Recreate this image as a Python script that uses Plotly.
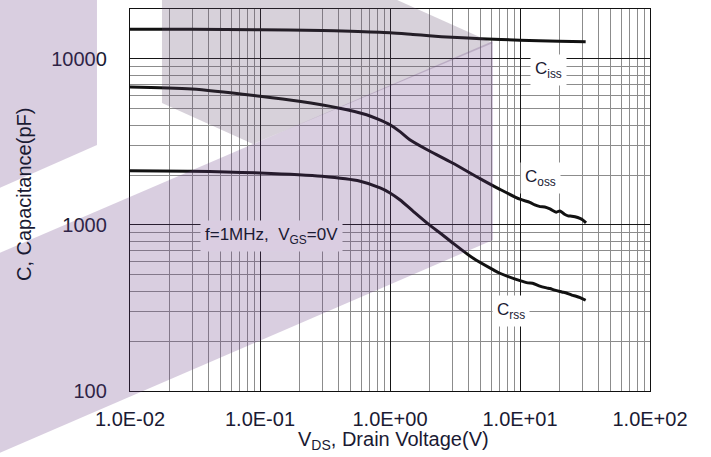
import plotly.graph_objects as go
import math

# ---------------- data ----------------
vds_ciss = [0.01, 0.03, 0.1, 0.3, 0.5, 1.0, 1.5, 2.0, 3.0, 5.0, 10.0, 20.0, 32.0]
ciss = [15100, 15100, 15000, 14850, 14700, 14400, 14050, 13800, 13500, 13250, 12980, 12800, 12700]

vds_coss = [0.01, 0.03, 0.1, 0.2, 0.4, 0.66, 0.8, 1.0, 1.2, 1.42, 2.0, 3.0, 5.0, 7.0, 10.0,
            11.9, 13.0, 14.3, 15.5, 17.0, 19.0, 20.3, 22.0, 23.4, 25.0, 26.5, 28.9, 30.5, 32.2]
coss = [6770, 6590, 5960, 5560, 5070, 4615, 4360, 4020, 3640, 3265, 2800, 2370, 1890, 1640, 1430,
        1370, 1320, 1290, 1285, 1250, 1195, 1215, 1160, 1135, 1130, 1120, 1095, 1070, 1030]

vds_crss = [0.01, 0.03, 0.1, 0.3, 0.59, 0.84, 1.0, 1.19, 1.51, 2.0, 2.5, 3.0, 4.37, 6.2, 7.0, 10.0,
            11.5, 12.5, 14.0, 16.0, 17.0, 18.5, 21.0, 23.0, 25.0, 27.0, 29.0, 32.0]
crss = [2124, 2110, 2056, 1963, 1833, 1672, 1560, 1419, 1208, 1004, 880, 785, 630, 538, 512, 462,
        448, 446, 430, 418, 414, 405, 395, 388, 378, 372, 365, 352]

x_tickvals = [0.01, 0.1, 1, 10, 100]
x_ticktext = ["1.0E-02", "1.0E-01", "1.0E+00", "1.0E+01", "1.0E+02"]
y_tickvals = [100, 1000, 10000]
y_ticktext = ["100", "1000", "10000"]

# ---------------- layout constants ----------------
W, H = 711, 457
L, R, T, B = 130, 61, 9, 66
PW, PH = W - L - R, H - T - B
TXT = "#1a1a33"
FONT = "Liberation Sans, Arial, sans-serif"

fig = go.Figure()
for xs, ys in [(vds_ciss, ciss), (vds_coss, coss), (vds_crss, crss)]:
    fig.add_trace(go.Scatter(x=xs, y=ys, mode="lines",
                             line=dict(color="#111111", width=3, shape="spline", smoothing=0.8),
                             showlegend=False, hoverinfo="skip"))

x_minor = [m * d for d in [0.01, 0.1, 1, 10] for m in range(2, 10)]
y_minor = [m * d for d in [100, 1000] for m in range(2, 10)]

fig.update_xaxes(type="log", range=[-2, 2], tickvals=x_tickvals, ticktext=x_ticktext,
                 ticks="", ticklabelstandoff=10,
                 tickfont=dict(family=FONT, size=20, color=TXT),
                 showgrid=True, gridcolor="#151515", gridwidth=1,
                 minor=dict(tickvals=x_minor, showgrid=True, gridcolor="#8c8c8c", gridwidth=1, ticks=""),
                 showline=True, mirror=True, linecolor="#111111", linewidth=1.3, zeroline=False)
fig.update_yaxes(type="log", range=[2, math.log10(20000)], tickvals=y_tickvals, ticktext=y_ticktext,
                 ticks="", ticklabelstandoff=18,
                 tickfont=dict(family=FONT, size=20, color=TXT),
                 showgrid=True, gridcolor="#151515", gridwidth=1,
                 minor=dict(tickvals=y_minor, showgrid=True, gridcolor="#8c8c8c", gridwidth=1, ticks=""),
                 showline=True, mirror=True, linecolor="#111111", linewidth=1.3, zeroline=False)


def px2paper(pts):
    return [((x - L) / PW, (H - B - y) / PH) for x, y in pts]


def path(pts):
    p = px2paper(pts)
    return "M " + " L ".join(f"{x:.4f},{y:.4f}" for x, y in p) + " Z"


# watermark polygons (pixel coordinates of decoration)
purple_bar = [(-5, -5), (97, -5), (97, 145), (-5, 190)]
gray_face = [(162, -5), (386, -5), (493, 43), (253, 144), (162, 103)]
purple_band = [(-5, 255), (493, 41), (493, 240), (-5, 455)]
shapes = []
for poly, col in [(purple_bar, "rgb(103,59,131)"), (purple_band, "rgb(103,59,131)"),
                  (gray_face, "rgb(95,71,107)")]:
    shapes.append(dict(type="path", xref="paper", yref="paper", path=path(poly),
                       fillcolor=col, opacity=0.25, line=dict(width=0), layer="above"))

annotations = []


def ann_px(x, y, text, size=17, bg=None, angle=0):
    px, py = px2paper([(x, y)])[0]
    a = dict(x=px, y=py, xref="paper", yref="paper", text=text, showarrow=False,
             font=dict(family=FONT, size=size, color=TXT), xanchor="center", yanchor="middle",
             textangle=angle)
    if bg:
        a.update(bgcolor=bg, borderpad=4)
    annotations.append(a)


ann_px(548, 70, "C<sub>iss</sub>", bg="white")
ann_px(540, 178, "C<sub>oss</sub>", bg="white")
ann_px(511, 311, "C<sub>rss</sub>", bg="white")
ann_px(271, 236, "f=1MHz,  V<sub>GS</sub>=0V", bg="#dacde1")
ann_px(393, 440, "V<sub>DS</sub>, Drain Voltage(V)", size=20)
ann_px(24, 195, "C, Capacitance(pF)", size=20, angle=-90)

fig.update_layout(width=W, height=H, margin=dict(l=L, r=R, t=T, b=B, autoexpand=False),
                  paper_bgcolor="white", plot_bgcolor="rgba(0,0,0,0)",
                  shapes=shapes, annotations=annotations, showlegend=False)

fig.write_html("out.html", config={"displayModeBar": False},
               post_script="document.body.style.margin='0px';document.body.style.overflow='hidden';")
